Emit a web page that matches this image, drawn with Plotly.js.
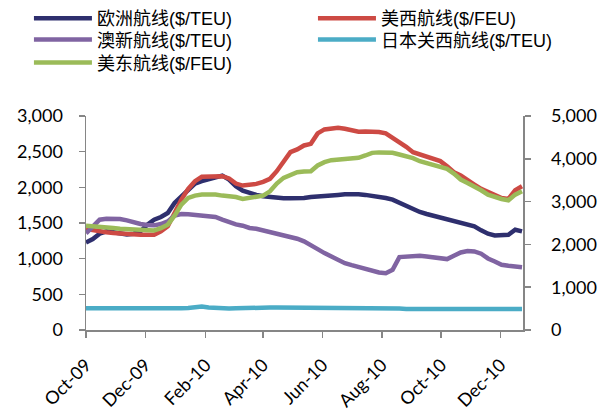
<!DOCTYPE html>
<html>
<head>
<meta charset="utf-8">
<script src="https://cdn.plot.ly/plotly-3.0.1.min.js"></script>
<style>html,body{margin:0;padding:0;background:#fff;}#chart{width:603px;height:416px;}</style>
</head>
<body>
<div id="chart"></div>
<script>
const dates = [
"2009-10-16","2009-10-23","2009-10-30","2009-11-06","2009-11-13","2009-11-20","2009-11-27",
"2009-12-04","2009-12-11","2009-12-18","2009-12-25","2010-01-01","2010-01-08","2010-01-15",
"2010-01-22","2010-01-29","2010-02-05","2010-02-12","2010-02-19","2010-02-26","2010-03-05",
"2010-03-12","2010-03-19","2010-03-26","2010-04-02","2010-04-09","2010-04-16","2010-04-23",
"2010-04-30","2010-05-07","2010-05-14","2010-05-21","2010-05-28","2010-06-04","2010-06-11",
"2010-06-18","2010-06-25","2010-07-02","2010-07-09","2010-07-16","2010-07-23","2010-07-30",
"2010-08-06","2010-08-13","2010-08-20","2010-08-27","2010-09-03","2010-09-10","2010-09-17",
"2010-09-24","2010-10-01","2010-10-08","2010-10-15","2010-10-22","2010-10-29","2010-11-05",
"2010-11-12","2010-11-19","2010-11-26","2010-12-03","2010-12-10","2010-12-17","2010-12-24",
"2010-12-31","2011-01-07"];

// 欧洲航线 ($/TEU), left axis
const europe = [1228,1275,1350,1383,1369,1350,1340,1350,1383,1476,1547,1584,1640,1781,1875,1978,2053,2086,2109,2142,2165,2109,
2015,1954,1922,1894,1875,1861,1851,1847,1847,1847,1851,1865,1870,1870,1875,1894,1903,1908,1903,1894,1882,1865,1851,1828,1781,
1734,1687,1655,1626,1603,1570,1547,1533,1509,1476,1453,1397,1350,1326,1326,1336,1406,1383];

// 美西航线 ($/FEU), left axis
const usWest = [1415,1397,1378,1369,1359,1350,1345,1340,1336,1336,1336,1383,1453,1640,1828,1978,2086,2147,2147,2147,2156,2125,
2053,2025,2034,2048,2076,2119,2226,2367,2493,2531,2587,2610,2756,2812,2826,2836,2822,2798,2779,2784,2784,2775,2756,2695,2634,
2568,2493,2460,2428,2400,2367,2297,2212,2165,2109,2039,1978,1931,1884,1851,1837,1959,2015];

// 澳新航线 ($/TEU), left axis
const ausNz = [1355,1453,1547,1561,1561,1556,1537,1509,1486,1472,1467,1486,1523,1603,1626,1622,1612,1603,1594,1584,1547,1505,
1480,1462,1430,1420,1397,1373,1350,1326,1303,1280,1242,1195,1134,1078,1026,975,937,909,881,862,828,806,797,844,1022,
1031,1041,1041,1031,1022,1012,994,1041,1087,1106,1101,1069,1003,961,914,900,891,881];

// 日本关西航线 ($/TEU), left axis
const japan = [305,305,295,295,300,291,291,291,291,291,291,291,295,300,305,309,319,328,314,305,300,300,
305,310,314,314,314,314,314,314,314,314,314,314,314,314,314,314,314,312,310,309,305,305,305,300,300,
296,295,293,293,293,293,293,293,293,293,293,293,293,293,293,293,293,293];

// 美东航线 ($/FEU), right axis
const usEast = [2437,2429,2413,2398,2382,2366,2359,2343,2327,2327,2327,2382,2460,2671,2929,3085,3140,3163,3171,3163,3140,3130,
3108,3062,3085,3108,3140,3241,3421,3554,3632,3686,3702,3710,3843,3921,3967,3983,3999,3999,4022,4077,4139,4150,4155,4139,4100,
4061,4014,3944,3905,3866,3827,3764,3655,3515,3436,3358,3265,3163,3108,3062,3030,3163,3241];

const names = ["欧洲航线($/TEU)","美西航线($/FEU)","澳新航线($/TEU)","日本关西航线($/TEU)","美东航线($/FEU)"];
const colors = ["#2E2F6E","#CD4A44","#8064A2","#4BACC6","#9BBB59"];
const seriesList = [europe, usWest, ausNz, japan, usEast];
const axes = ["y","y","y","y","y2"];
const legendIds = ["legend","legend2","legend3","legend4","legend5"];

const traces = seriesList.map((s,i)=>({
  x: dates, y: s, name: names[i], type: "scatter", mode: "lines",
  yaxis: axes[i], legend: legendIds[i],
  line: {color: colors[i], width: 4.5}
}));

const tickFont = {family: "Lato, 'Open Sans', sans-serif", size: 18, color: "#000"};
const axisCommon = {
  ticks: "outside", ticklen: 6, tickcolor: "#868686", tickwidth: 1.5,
  showline: true, linecolor: "#868686", linewidth: 1.5,
  showgrid: false, zeroline: false, tickfont: tickFont
};

function legendAt(x, y) {
  return {
    orientation: "v", x: x, xref: "container", y: y, yref: "container",
    xanchor: "left", yanchor: "top",
    font: {family: "'Liberation Sans', 'Noto Sans CJK SC', sans-serif", size: 18, color: "#000"},
    itemwidth: 58, bgcolor: "rgba(0,0,0,0)"
  };
}

const layout = {
  width: 603, height: 416,
  margin: {l: 86, r: 80, t: 116, b: 86, pad: 0, autoexpand: false},
  paper_bgcolor: "#fff", plot_bgcolor: "#fff",
  showlegend: true,
  legend:  legendAt(0.048, 1.004),
  legend2: legendAt(0.519, 1.004),
  legend3: legendAt(0.048, 0.9488),
  legend4: legendAt(0.519, 0.9488),
  legend5: legendAt(0.048, 0.8935),
  xaxis: Object.assign({}, axisCommon, {
    type: "date",
    range: ["2009-10-16", "2011-01-08"],
    tick0: "2009-10-16", dtick: "M2", tickformat: "%b-%y",
    tickangle: -45,
    ticklabelstandoff: 10
  }),
  yaxis: Object.assign({}, axisCommon, {
    range: [0, 3000], dtick: 500, tickformat: ",d",
    ticklabelstandoff: 12
  }),
  yaxis2: Object.assign({}, axisCommon, {
    range: [0, 5000], dtick: 1000, tickformat: ",d",
    overlaying: "y", side: "right",
    ticklabelstandoff: 17
  })
};

Plotly.newPlot("chart", traces, layout, {displayModeBar: false, staticPlot: true});
</script>
</body>
</html>
